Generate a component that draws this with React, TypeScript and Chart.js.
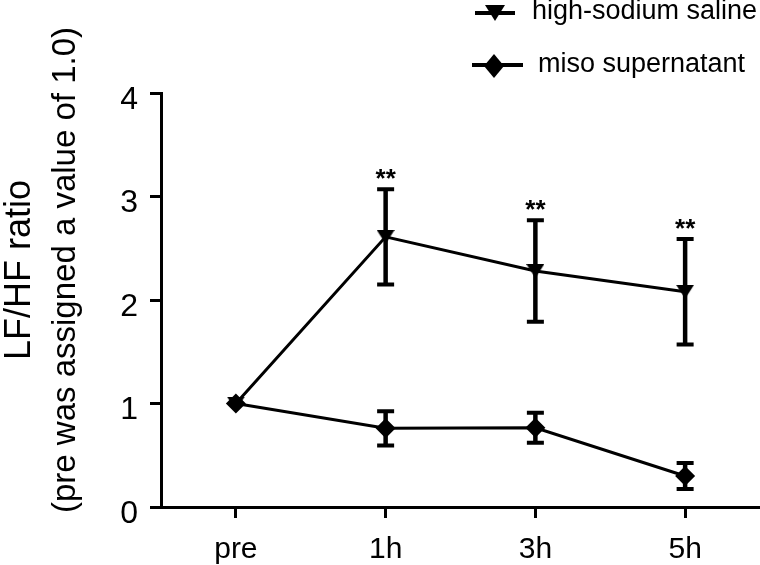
import React, { useEffect, useRef } from 'react';
import { Chart, registerables } from 'chart.js';

Chart.register(...registerables);

// ---- data ----
const categories = ['pre', '1h', '3h', '5h'];
const seriesNames = ['high-sodium saline', 'miso supernatant'];
const highSodiumMean = [1.0, 2.61, 2.28, 2.08];
const highSodiumSem = [0, 0.46, 0.49, 0.51];
const misoMean = [1.0, 0.76, 0.765, 0.3];
const misoSem = [0, 0.165, 0.145, 0.125];
const significance = ['', '**', '**', '**'];
const yTicks = [0, 1, 2, 3, 4];
const yTitle = ['LF/HF ratio', '(pre was assigned a value of 1.0)'];

const FONT = '"Liberation Sans", Arial, Helvetica, sans-serif';

function makeTriangle(w: number, h: number): HTMLCanvasElement {
  const c = document.createElement('canvas');
  c.width = w;
  c.height = h;
  const g = c.getContext('2d')!;
  g.fillStyle = '#000';
  g.beginPath();
  g.moveTo(0, 0);
  g.lineTo(w, 0);
  g.lineTo(w / 2, h);
  g.closePath();
  g.fill();
  return c;
}

const errorBarPlugin = {
  id: 'errorBars',
  beforeDatasetsDraw(chart: any) {
    const ctx = chart.ctx;
    const ys = chart.scales.y;
    const sems = [highSodiumSem, misoSem];
    chart.data.datasets.forEach((ds: any, di: number) => {
      const meta = chart.getDatasetMeta(di);
      meta.data.forEach((pt: any, i: number) => {
        const s = sems[di][i];
        if (!s) return;
        const v = ds.data[i];
        const top = ys.getPixelForValue(v + s);
        const bot = ys.getPixelForValue(v - s);
        const x = pt.x;
        ctx.save();
        ctx.strokeStyle = '#000';
        ctx.lineWidth = 4.5;
        ctx.beginPath();
        ctx.moveTo(x, top);
        ctx.lineTo(x, bot);
        ctx.stroke();
        ctx.lineWidth = 4;
        ctx.beginPath();
        ctx.moveTo(x - 8.5, top);
        ctx.lineTo(x + 8.5, top);
        ctx.moveTo(x - 8.5, bot);
        ctx.lineTo(x + 8.5, bot);
        ctx.stroke();
        ctx.restore();
      });
    });
  },
};

const annotationPlugin = {
  id: 'annotations',
  afterDraw(chart: any) {
    const ctx = chart.ctx;
    const ys = chart.scales.y;
    const meta = chart.getDatasetMeta(0);
    ctx.save();
    ctx.fillStyle = '#000';
    // significance stars
    ctx.font = `bold 26px ${FONT}`;
    ctx.textAlign = 'center';
    ctx.textBaseline = 'alphabetic';
    significance.forEach((s, i) => {
      if (!s) return;
      const top = ys.getPixelForValue(highSodiumMean[i] + highSodiumSem[i]);
      ctx.fillText(s, meta.data[i].x, top - 2);
    });

    // y-axis title (two lines)
    const cy = 270;
    ctx.save();
    ctx.translate(30, cy);
    ctx.rotate(-Math.PI / 2);
    ctx.font = `36px ${FONT}`;
    ctx.textAlign = 'center';
    ctx.fillText(yTitle[0], 0, 0);
    ctx.restore();
    ctx.save();
    ctx.translate(75, cy);
    ctx.rotate(-Math.PI / 2);
    ctx.font = `33px ${FONT}`;
    ctx.textAlign = 'center';
    ctx.fillText(yTitle[1], 0, 0);
    ctx.restore();

    // legend
    ctx.strokeStyle = '#000';
    ctx.lineWidth = 4;
    ctx.font = `27px ${FONT}`;
    ctx.textAlign = 'left';
    // row 1: line + down triangle
    ctx.beginPath();
    ctx.moveTo(475, 13);
    ctx.lineTo(515, 13);
    ctx.stroke();
    ctx.beginPath();
    ctx.moveTo(485, 5);
    ctx.lineTo(505, 5);
    ctx.lineTo(495, 21);
    ctx.closePath();
    ctx.fill();
    ctx.fillText(seriesNames[0], 532, 19);
    // row 2: line + diamond
    ctx.beginPath();
    ctx.moveTo(472, 65);
    ctx.lineTo(523, 65);
    ctx.stroke();
    ctx.beginPath();
    ctx.moveTo(494, 54);
    ctx.lineTo(504, 66);
    ctx.lineTo(494, 78);
    ctx.lineTo(484, 66);
    ctx.closePath();
    ctx.fill();
    ctx.fillText(seriesNames[1], 538, 72);
    ctx.restore();
  },
};

export default function App() {
  const ref = useRef<HTMLCanvasElement | null>(null);
  useEffect(() => {
    if (!ref.current) return;
    const tri = makeTriangle(18, 14);
    const axisGrid = {
      display: true,
      drawOnChartArea: false,
      drawTicks: true,
      tickLength: 11,
      lineWidth: 3,
      color: '#000',
      offset: false,
    };
    const axisBorder = { display: true, color: '#000', width: 3 };
    const chart = new Chart(ref.current, {
      type: 'line',
      data: {
        labels: categories,
        datasets: [
          {
            label: seriesNames[0],
            data: highSodiumMean,
            borderColor: '#000',
            backgroundColor: '#000',
            borderWidth: 3,
            tension: 0,
            pointStyle: tri as any,
            pointRadius: 9,
            pointBorderWidth: 0,
          },
          {
            label: seriesNames[1],
            data: misoMean,
            borderColor: '#000',
            backgroundColor: '#000',
            borderWidth: 3,
            tension: 0,
            pointStyle: 'rectRot',
            pointRadius: 10,
            pointBorderWidth: 0,
          },
        ],
      },
      options: {
        responsive: false,
        animation: false,
        layout: { autoPadding: false, padding: { top: 93, left: 0, right: 0, bottom: 0 } },
        plugins: { legend: { display: false }, tooltip: { enabled: false } },
        scales: {
          x: {
            type: 'category',
            offset: true,
            grid: axisGrid as any,
            border: axisBorder,
            ticks: {
              color: '#000',
              font: { family: FONT, size: 30 },
              padding: 14,
              maxRotation: 0,
              autoSkip: false,
            },
            afterFit: (s: any) => {
              s.height = 58;
              s.paddingLeft = 0;
              s.paddingRight = 0;
            },
          },
          y: {
            min: 0,
            max: 4,
            grid: axisGrid as any,
            border: axisBorder,
            afterBuildTicks: (s: any) => {
              s.ticks = yTicks.map((v) => ({ value: v }));
            },
            ticks: {
              color: '#000',
              font: { family: FONT, size: 32 },
              padding: 12,
              labelOffset: 7,
            },
            afterFit: (s: any) => {
              s.width = 161;
              s.paddingTop = 0;
              s.paddingBottom = 0;
            },
          },
        },
      },
      plugins: [errorBarPlugin, annotationPlugin],
    });
    return () => chart.destroy();
  }, []);
  return (
    <div style={{ position: 'absolute', left: 0, top: 0, width: 760, height: 565, background: '#fff' }}>
      <canvas ref={ref} width={760} height={565} style={{ display: 'block' }} />
    </div>
  );
}
